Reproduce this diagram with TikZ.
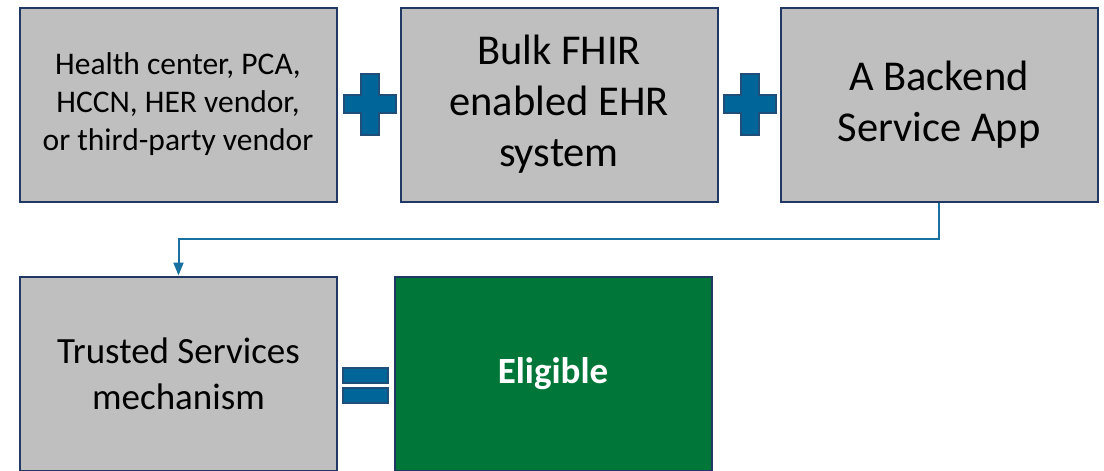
\documentclass[tikz,border=0pt]{standalone}
\usepackage{fontspec}
\setmainfont{Carlito}
\usetikzlibrary{arrows.meta}
\definecolor{boxgray}{RGB}{191,191,191}
\definecolor{boxline}{RGB}{31,56,100}
\definecolor{signblue}{RGB}{0,102,153}
\definecolor{signline}{RGB}{31,78,121}
\definecolor{linkblue}{RGB}{24,112,160}
\definecolor{okgreen}{RGB}{0,118,56}
\tikzset{
  stepbox/.style={draw=boxline, line width=2pt, fill=boxgray, inner sep=0pt,
    minimum width=317pt, minimum height=194pt, align=center, text=black},
  okbox/.style={stepbox, fill=okgreen, text=white, font=\bfseries\fontsize{37}{44}\selectfont},
  sign/.style={fill=signblue, draw=signline, line width=1.5pt},
  link/.style={draw=linkblue, line width=2pt, -{Triangle[length=13pt,width=10pt]}}
}
\begin{document}
\begin{tikzpicture}[x=1pt,y=-1pt]

	\useasboundingbox (0,0) rectangle (1104,471);

	\node[stepbox, font=\fontsize{31.5}{38}\selectfont] (center) at (178,104.5) {Health center, PCA,\\HCCN, HER vendor,\\or third-party vendor};
	\node[stepbox, font=\fontsize{42.5}{51}\selectfont] (ehr) at (559,104.5) {Bulk FHIR\\enabled EHR\\system};
	\node[stepbox, font=\fontsize{42.5}{51}\selectfont] (app) at (939,104.5) {A Backend\\Service App};
	\node[stepbox, font=\fontsize{37}{46}\selectfont] (trusted) at (178.5,373.5) {Trusted Services\\mechanism};
	\node[okbox] (eligible) at (553,373.5) {Eligible};

	\filldraw[sign] (361,74) -- (379,74) -- (379,95) -- (396,95) -- (396,113) -- (379,113) -- (379,135) -- (361,135) -- (361,113) -- (344,113) -- (344,95) -- (361,95) -- cycle;
	\filldraw[sign] (741,74) -- (759,74) -- (759,95) -- (776,95) -- (776,113) -- (759,113) -- (759,135) -- (741,135) -- (741,113) -- (724,113) -- (724,95) -- (741,95) -- cycle;
	\filldraw[sign] (343,368) rectangle (388,383);
	\filldraw[sign] (343,388) rectangle (388,403);

	\draw[link] (app.south) -- ++(0,36) -| (trusted.north);

      \end{tikzpicture}
\end{document}
